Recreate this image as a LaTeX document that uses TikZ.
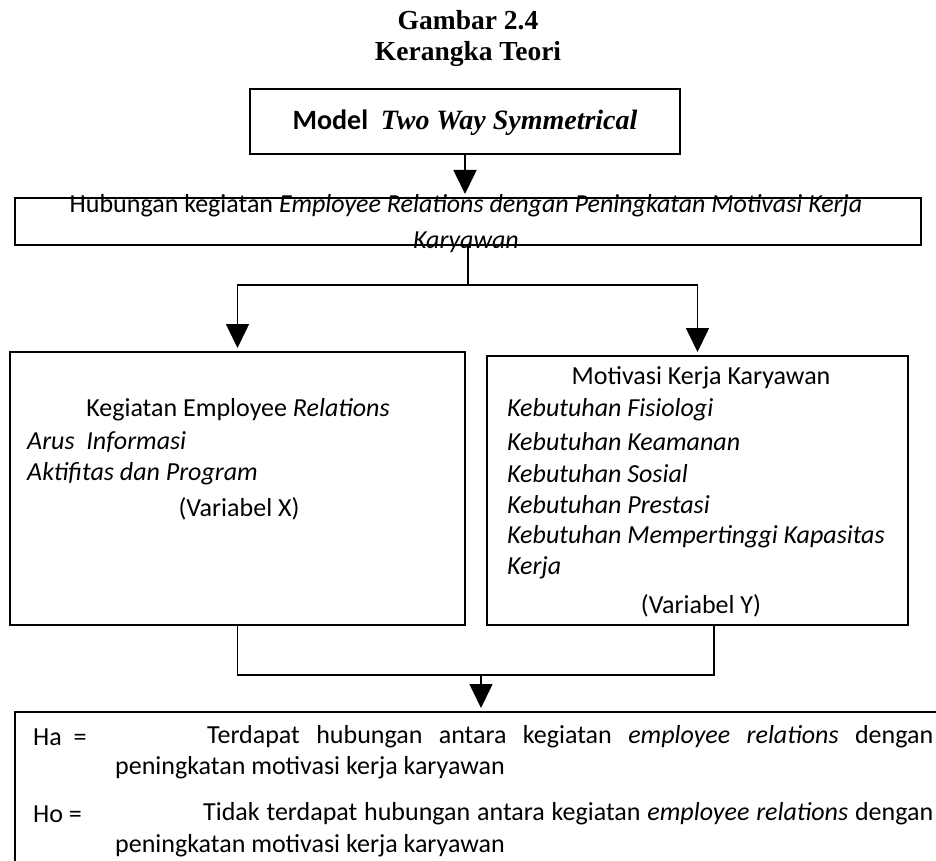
\documentclass[tikz,border=0pt]{standalone}
\usepackage{fontspec}
\setmainfont{Carlito}
\newfontfamily\timesfont{Liberation Serif}
\usetikzlibrary{arrows.meta,calc}
\begin{document}
\begin{tikzpicture}[x=1pt,y=-1pt,
  box/.style={draw, line width=1.6pt, inner sep=0pt, outer sep=0pt, rectangle},
  arr/.style={line width=1.6pt, -{Triangle[width=23pt,length=24pt]}, shorten >=4pt},
  ln/.style={line width=1.6pt},
  txt/.style={inner sep=0pt, font=\fontsize{26}{30}\selectfont},
  lt/.style={txt, anchor=west},
  ttl/.style={inner sep=0pt, align=center, font=\timesfont\bfseries\fontsize{27.5}{31}\selectfont}]
\useasboundingbox (0,0) rectangle (936,861);
% title
\node[ttl] (title) at (468,38.5) {Gambar 2.4\\Kerangka Teori};
% boxes
\node[box, minimum width=430pt, minimum height=65pt] (model) at (465,121.5) {};
\node[box, minimum width=906pt, minimum height=47pt] (rel) at (468,221.5) {};
\node[box, minimum width=455pt, minimum height=273pt] (left) at (237.5,488.5) {};
\node[box, minimum width=421pt, minimum height=269pt] (right) at (697.5,490.5) {};
\node[box, minimum width=945pt, minimum height=188pt] (hyp) at (487.5,806) {};
% texts
\node[txt, font=\fontsize{28}{30}\selectfont] (tmodel) at (465,123) {\bfseries Model\ \ {\timesfont\bfseries\itshape Two Way Symmetrical}};
\node[txt] (trel1) at (466,206) {Hubungan kegiatan \textit{Employee Relations dengan Peningkatan Motivasi Kerja}};
\node[txt] (trel2) at (466,242) {\textit{Karyawan}};
\node[txt] (tl0) at (238,410) {Kegiatan Employee \textit{Relations}};
\node[lt] (tl1) at (27,442) {\textit{Arus\ \ Informasi}};
\node[lt] (tl2) at (27,474) {\textit{Aktifitas dan Program}};
\node[txt] (tl3) at (239,509) {(Variabel X)};
\node[txt] (tr0) at (701,378) {Motivasi Kerja Karyawan};
\node[lt] (tr1) at (507,410) {\textit{Kebutuhan Fisiologi}};
\node[lt] (tr2) at (507,442) {\textit{Kebutuhan Keamanan}};
\node[lt] (tr3) at (507,474) {\textit{Kebutuhan Sosial}};
\node[lt] (tr4) at (507,505) {\textit{Kebutuhan Prestasi}};
\node[lt] (tr5) at (507,537) {\textit{Kebutuhan Mempertinggi Kapasitas}};
\node[lt] (tr6) at (507,568) {\textit{Kerja}};
\node[txt] (tr7) at (701,606) {(Variabel Y)};
\node[lt] (ha) at (33,737) {Ha\ \ =};
\node[lt] (ha1) at (207,737) {\makebox[726pt][s]{Terdapat hubungan antara kegiatan \textit{employee relations} dengan}};
\node[lt] (ha2) at (115,768) {peningkatan motivasi kerja karyawan};
\node[lt] (ho) at (33,814) {Ho =};
\node[lt] (ho1) at (203,814) {\makebox[730pt][s]{Tidak terdapat hubungan antara kegiatan \textit{employee relations} dengan}};
\node[lt] (ho2) at (115,846) {peningkatan motivasi kerja karyawan};
% connectors
\draw[arr] (model.south) -- (model.south |- rel.north);
\draw[ln] (rel.south) -- ++(0,40) coordinate (br);
\draw[arr] (br) -| (left.north);
\draw[arr] (br) -| (right.north);
\coordinate (rj) at ($(right.south)+(16.5,0)$);
\coordinate (mj) at (481,675);
\draw[ln] (left.south) |- (mj);
\draw[ln] (rj) |- (mj);
\draw[arr] (mj) -- (mj |- hyp.north);
\end{tikzpicture}
\end{document}
